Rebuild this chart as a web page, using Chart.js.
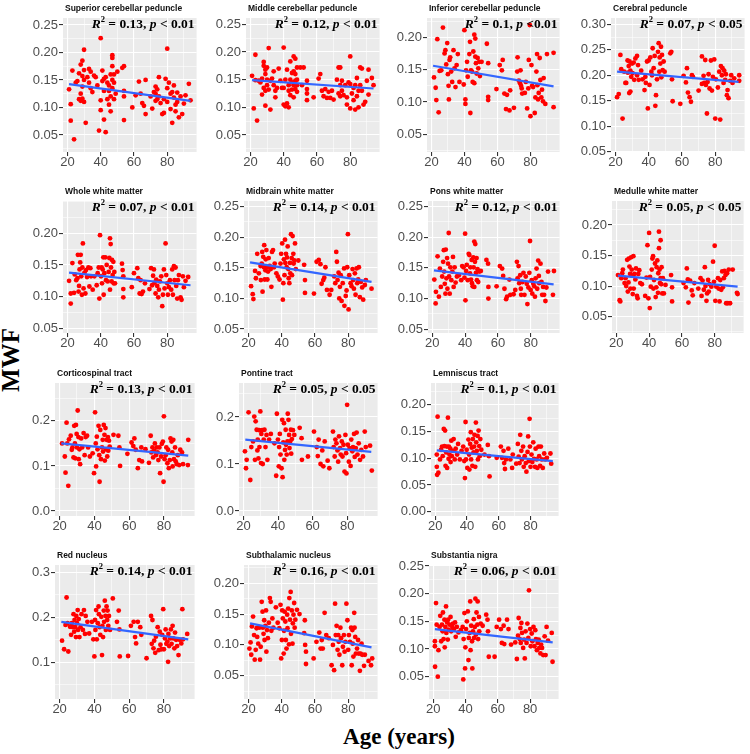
<!DOCTYPE html>
<html>
<head>
<meta charset="utf-8">
<script src="https://cdn.jsdelivr.net/npm/chart.js@4.4.1/dist/chart.umd.min.js"></script>
<style>
  body { margin: 0; background: #fff; }
  #page { position: relative; width: 750px; height: 754px; overflow: hidden; background: #fff; }
  #page canvas { position: absolute; }
  #ylab {
    position: absolute; left: -28px; top: 345px; width: 80px; height: 30px; line-height: 30px;
    text-align: center; font: bold 25px "Liberation Serif", serif; color: #000;
    transform: rotate(-90deg);
  }
  #xlab {
    position: absolute; left: 319px; top: 724px; width: 160px; height: 30px; line-height: 30px;
    text-align: center; font: bold 23px "Liberation Serif", serif; color: #000;
  }
</style>
</head>
<body>
<div id="page">
  <div id="ylab">MWF</div>
  <div id="xlab">Age (years)</div>
</div>
<script>
// panel titles and fit statistics
const titles = ["Superior cerebellar peduncle", "Middle cerebellar peduncle", "Inferior cerebellar peduncle", "Cerebral peduncle",
  "Whole white matter", "Midbrain white matter", "Pons white matter", "Medulle white matter",
  "Corticospinal tract", "Pontine tract", "Lemniscus tract",
  "Red nucleus", "Subthalamic nucleus", "Substantia nigra"];
const rSquared = ["0.13", "0.12", "0.1", "0.07", "0.07", "0.14", "0.12", "0.05", "0.13", "0.05", "0.1", "0.14", "0.16", "0.06"];
const pValues = ["< 0.01", "< 0.01", "<0.01", "< 0.05", "< 0.01", "< 0.01", "< 0.01", "< 0.05", "< 0.01", "< 0.05", "< 0.01", "< 0.01", "< 0.01", "< 0.01"];

// x axis (age) ticks, shared by every panel
const xTickLabels = ["20", "40", "60", "80"];
const xLimits = [17.35, 97.65];
const ageRange = [21, 94];

// y tick labels per panel
const yTickLabels = [
  ["0.05", "0.10", "0.15", "0.20", "0.25"],
  ["0.05", "0.10", "0.15", "0.20", "0.25"],
  ["0.05", "0.10", "0.15", "0.20"],
  ["0.05", "0.10", "0.15", "0.20", "0.25", "0.30"],
  ["0.05", "0.10", "0.15", "0.20"],
  ["0.05", "0.10", "0.15", "0.20", "0.25"],
  ["0.05", "0.10", "0.15", "0.20", "0.25"],
  ["0.05", "0.10", "0.15", "0.20"],
  ["0.0", "0.1", "0.2"],
  ["0.0", "0.1", "0.2"],
  ["0.00", "0.05", "0.10", "0.15", "0.20"],
  ["0.1", "0.2", "0.3"],
  ["0.05", "0.10", "0.15", "0.20"],
  ["0.05", "0.10", "0.15", "0.20", "0.25"]
];
const yLimits = [
  [0.019, 0.2627], [0.0193, 0.2614], [0.0227, 0.2298], [0.0494, 0.3124],
  [0.0426, 0.251], [0.0435, 0.2593], [0.0437, 0.2593], [0.0233, 0.2392],
  [-0.011, 0.284], [-0.0107, 0.2725], [-0.008, 0.241],
  [0.0185, 0.3162], [0.0122, 0.2297], [0.0097, 0.2518]
];

// fitted line values at the youngest and oldest age
const fitStart = [0.1425, 0.149, 0.156, 0.207, 0.138, 0.159, 0.146, 0.117, 0.150, 0.152, 0.115, 0.190, 0.135, 0.136];
const fitEnd = [0.112, 0.134, 0.124, 0.187, 0.118, 0.127, 0.123, 0.099, 0.123, 0.126, 0.0946, 0.151, 0.096, 0.112];

// [age, MWF] per panel
const superiorCP = [
  [21,0.133],[22,0.106],[22,0.076],[23,0.167],[24,0.042],[25,0.145],[26,0.148],[27,0.162],[27,0.115],[28,0.178],[28,0.125],[28,0.112],
  [29,0.185],[29,0.157],[29,0.138],[29,0.116],[30,0.205],[30,0.168],[30,0.150],[30,0.110],[31,0.072],[32,0.155],[33,0.170],[33,0.145],
  [34,0.165],[34,0.135],[35,0.128],[36,0.158],[37,0.155],[38,0.140],[39,0.058],[40,0.226],[40,0.113],[40,0.095],[41,0.167],[41,0.148],
  [42,0.152],[42,0.130],[42,0.078],[43,0.155],[43,0.055],[44,0.145],[44,0.115],[45,0.140],[45,0.105],[45,0.130],[46,0.160],[46,0.120],
  [46,0.093],[47,0.195],[47,0.190],[47,0.175],[47,0.150],[47,0.135],[48,0.160],[48,0.145],[48,0.115],[49,0.125],[50,0.165],[53,0.172],
  [54,0.175],[54,0.130],[54,0.120],[54,0.077],[59,0.100],[61,0.122],[63,0.147],[64,0.125],[65,0.108],[66,0.103],[67,0.150],[67,0.088],
  [70,0.120],[71,0.098],[72,0.128],[73,0.138],[73,0.125],[73,0.112],[74,0.133],[74,0.115],[75,0.155],[75,0.120],[76,0.108],[77,0.088],
  [78,0.115],[78,0.090],[79,0.152],[80,0.207],[80,0.135],[80,0.110],[81,0.145],[82,0.125],[82,0.097],[83,0.072],[83,0.128],[84,0.140],
  [84,0.118],[85,0.105],[85,0.093],[86,0.127],[86,0.110],[87,0.082],[88,0.120],[89,0.088],[90,0.107],[91,0.122],[93,0.143],[94,0.113]
];
const middleCP = [
  [21,0.157],[22,0.098],[23,0.195],[23,0.149],[24,0.076],[25,0.148],[26,0.145],[27,0.152],[27,0.123],[28,0.182],[28,0.175],[28,0.135],
  [29,0.168],[29,0.160],[29,0.130],[29,0.103],[30,0.172],[30,0.150],[30,0.140],[31,0.207],[31,0.132],[32,0.096],[32,0.148],[33,0.152],
  [34,0.165],[34,0.140],[35,0.130],[35,0.118],[36,0.135],[37,0.170],[38,0.148],[39,0.135],[40,0.208],[40,0.135],[40,0.105],[41,0.102],
  [41,0.150],[42,0.168],[42,0.107],[43,0.140],[43,0.100],[43,0.130],[44,0.183],[44,0.150],[44,0.122],[45,0.162],[45,0.145],[45,0.132],
  [46,0.192],[46,0.165],[46,0.140],[46,0.118],[47,0.188],[47,0.160],[47,0.148],[47,0.133],[48,0.172],[48,0.150],[48,0.140],[48,0.128],
  [50,0.172],[51,0.140],[52,0.172],[54,0.133],[54,0.125],[54,0.113],[54,0.148],[58,0.118],[61,0.152],[62,0.160],[63,0.130],[64,0.120],
  [65,0.133],[66,0.117],[67,0.128],[68,0.117],[69,0.130],[70,0.114],[72,0.150],[73,0.172],[73,0.125],[74,0.172],[74,0.140],[74,0.120],
  [75,0.148],[75,0.130],[76,0.122],[77,0.140],[78,0.118],[78,0.105],[79,0.145],[80,0.192],[80,0.142],[80,0.098],[81,0.125],[82,0.135],
  [82,0.113],[83,0.096],[83,0.140],[84,0.153],[84,0.120],[85,0.130],[85,0.100],[86,0.172],[86,0.140],[87,0.170],[87,0.130],[88,0.105],
  [89,0.110],[90,0.148],[91,0.168],[91,0.123],[93,0.153],[94,0.140]
];
const inferiorCP = [
  [21.6,0.138],[22.6,0.122],[23,0.103],[23.6,0.197],[24.4,0.084],[25,0.148],[26,0.149],[27,0.215],[28,0.175],[28.5,0.180],[29,0.158],
  [29.6,0.191],[30,0.143],[30.4,0.125],[30.6,0.104],[31,0.165],[31.4,0.169],[32,0.147],[32.6,0.131],[33.4,0.180],[34,0.152],[34.6,0.123],
  [35.3,0.157],[36,0.174],[37,0.131],[39.6,0.127],[40,0.211],[40.6,0.104],[40.6,0.097],[41,0.149],[41.6,0.162],[42,0.139],[43,0.174],
  [43.4,0.193],[43.6,0.083],[44,0.149],[44.6,0.147],[45,0.131],[45.4,0.178],[46,0.204],[46,0.129],[46.6,0.198],[46.6,0.170],[47,0.160],
  [47.4,0.144],[48,0.168],[48.4,0.152],[49,0.162],[49.4,0.140],[50.4,0.162],[53.6,0.190],[54.4,0.160],[54.4,0.108],[54.4,0.103],
  [59.4,0.120],[61.4,0.157],[62.7,0.149],[63.2,0.165],[64.2,0.113],[65.2,0.089],[65.8,0.111],[67.3,0.087],[67.7,0.118],[70,0.091],
  [72,0.147],[72.2,0.169],[73,0.133],[73.7,0.129],[74,0.149],[74.3,0.125],[74.7,0.121],[75,0.113],[76.6,0.114],[77.2,0.131],[78,0.090],
  [78.7,0.121],[79,0.165],[79.6,0.219],[80,0.078],[80.6,0.157],[81,0.125],[81.6,0.123],[82.6,0.083],[83,0.107],[83.6,0.147],[84,0.174],
  [84.2,0.126],[84.6,0.104],[85,0.114],[85.6,0.168],[86,0.134],[86.6,0.107],[87,0.119],[87.6,0.101],[88,0.137],[89,0.097],[90,0.174],
  [94,0.092],[94,0.176]
];
const cerebralPed = [
  [21,0.157],[22,0.163],[23,0.240],[23.5,0.212],[24.3,0.115],[25.3,0.207],[26,0.185],[26.5,0.185],[27.3,0.229],[27.5,0.205],[28,0.218],
  [28.3,0.165],[28.5,0.227],[29,0.209],[29,0.168],[29.5,0.197],[30,0.223],[30.3,0.204],[31,0.225],[31.3,0.191],[32,0.233],[33,0.238],
  [33,0.200],[33.6,0.220],[34,0.191],[35.5,0.209],[36.3,0.192],[37.5,0.171],[38,0.197],[38.3,0.185],[39,0.227],[39.5,0.135],[40,0.229],
  [40.5,0.181],[41,0.235],[41.6,0.207],[42,0.200],[42.4,0.253],[43,0.214],[43.6,0.238],[44,0.140],[44.4,0.161],[45,0.192],[45.6,0.246],
  [46,0.263],[46.4,0.207],[46.6,0.235],[47,0.223],[47.4,0.256],[47.6,0.196],[48,0.240],[48.4,0.210],[49,0.227],[49.6,0.207],[53,0.243],
  [53.6,0.246],[54,0.192],[54.4,0.149],[59,0.144],[61,0.199],[62.4,0.186],[63,0.214],[63.6,0.166],[64.6,0.157],[65.4,0.148],[66,0.200],
  [66.6,0.197],[70,0.170],[72,0.237],[72,0.183],[73,0.199],[73.4,0.185],[74,0.230],[74.4,0.181],[75,0.125],[75.4,0.187],[76,0.202],
  [76.6,0.174],[77.4,0.229],[78,0.170],[78.6,0.197],[79.4,0.231],[80,0.115],[80.4,0.192],[81.6,0.176],[82.4,0.207],[83,0.113],
  [83.4,0.218],[84,0.200],[84.4,0.214],[85,0.185],[85.4,0.209],[86,0.191],[86.4,0.202],[87,0.161],[87.4,0.171],[88,0.155],[89,0.189],
  [89.6,0.200],[90.4,0.185],[91.4,0.194],[94.4,0.200],[94.4,0.189]
];
const wholeWM = [
  [21,0.125],[22,0.089],[22,0.105],[23,0.153],[24,0.106],[24.4,0.135],[25.3,0.126],[26,0.129],[26.3,0.166],[26.7,0.108],[27,0.117],
  [27.3,0.143],[27.7,0.154],[28,0.166],[28.3,0.132],[28.7,0.103],[29,0.146],[29.3,0.184],[29.7,0.113],[30.3,0.138],[30.8,0.105],
  [31.2,0.142],[31.8,0.131],[32.6,0.146],[33.2,0.116],[33.8,0.145],[34.2,0.132],[35.2,0.111],[36.2,0.132],[37.6,0.118],[38.2,0.137],
  [38.8,0.146],[39.2,0.097],[39.6,0.197],[40.2,0.132],[40.6,0.146],[40.8,0.121],[41.2,0.143],[41.6,0.162],[41.8,0.103],[42.2,0.137],
  [42.8,0.162],[43.2,0.126],[43.6,0.150],[44.2,0.124],[44.8,0.139],[45.2,0.161],[45.6,0.192],[45.6,0.111],[46,0.183],[46.2,0.146],
  [46.6,0.124],[46.8,0.158],[47.2,0.134],[47.6,0.155],[47.8,0.121],[48.2,0.139],[48.6,0.121],[52.8,0.152],[53.2,0.142],[53.6,0.132],
  [53.6,0.112],[53.6,0.099],[58.7,0.115],[60,0.137],[62,0.145],[62.6,0.129],[63.4,0.105],[64,0.126],[64.6,0.104],[65.4,0.108],
  [66.6,0.121],[69.3,0.112],[70.3,0.145],[70.9,0.118],[71.5,0.133],[72,0.143],[72.4,0.122],[73,0.105],[73.4,0.127],[74,0.117],
  [74.6,0.099],[75,0.111],[75.6,0.124],[76.4,0.132],[77,0.085],[77.4,0.103],[78,0.143],[78.4,0.113],[79,0.184],[79.4,0.134],[80,0.121],
  [80.4,0.103],[81,0.115],[81.6,0.126],[82.4,0.111],[83,0.143],[83.4,0.103],[84,0.148],[84.4,0.126],[85,0.146],[85.4,0.117],[86,0.097],
  [86.4,0.126],[87,0.134],[88,0.099],[88.6,0.095],[89.4,0.132],[90,0.115],[91,0.125],[92.6,0.131]
];
const midbrainWM = [
  [21.6,0.120],[22.6,0.107],[23,0.099],[24,0.145],[24.5,0.133],[25.3,0.173],[26.3,0.141],[27.3,0.153],[27.5,0.130],[28,0.157],
  [28.3,0.176],[28.5,0.111],[28.9,0.168],[29.3,0.151],[29.5,0.187],[29.8,0.131],[30.2,0.146],[30.4,0.164],[30.8,0.179],[31.2,0.151],
  [31.4,0.131],[31.8,0.144],[32.2,0.166],[32.8,0.153],[33.4,0.148],[33.8,0.119],[34.2,0.176],[34.8,0.179],[35.4,0.151],[35.8,0.157],
  [36.8,0.141],[37.7,0.136],[38.7,0.131],[39.3,0.157],[39.7,0.173],[40.3,0.190],[40.7,0.098],[41,0.125],[41.3,0.164],[41.7,0.138],
  [42,0.196],[42.2,0.158],[42.6,0.173],[43,0.151],[43.2,0.167],[43.6,0.185],[44,0.148],[44.2,0.133],[44.6,0.125],[45,0.158],[45.2,0.141],
  [45.6,0.205],[46,0.166],[46.2,0.138],[46.6,0.202],[47,0.173],[47.2,0.157],[47.6,0.162],[48,0.190],[48.5,0.148],[50,0.162],[53.5,0.155],
  [54,0.130],[54,0.109],[59.4,0.108],[61,0.160],[62.3,0.163],[63.3,0.156],[64,0.124],[65,0.130],[65.6,0.134],[66.3,0.151],[67.2,0.114],
  [68.8,0.106],[69.8,0.114],[71.6,0.136],[72.2,0.125],[72.8,0.176],[73.2,0.160],[73.6,0.130],[74.2,0.142],[74.6,0.100],[75,0.119],
  [75.5,0.138],[76,0.096],[76.7,0.125],[77.5,0.149],[77.7,0.088],[78.5,0.104],[79,0.113],[79.4,0.151],[79.8,0.205],[80.2,0.082],
  [80.6,0.138],[81.4,0.125],[82,0.120],[82.6,0.148],[83,0.130],[83.4,0.116],[84,0.141],[84.4,0.106],[85,0.149],[85.4,0.125],[86,0.131],
  [86.4,0.151],[87,0.102],[87.6,0.127],[88.4,0.118],[89,0.098],[90,0.122],[90.6,0.130],[94,0.116]
];
const ponsWM = [
  [21.2,0.131],[22,0.092],[22.2,0.111],[23.2,0.169],[24,0.103],[24.6,0.149],[25.2,0.119],[26,0.136],[26.6,0.160],[27,0.179],[27.2,0.144],
  [27.6,0.124],[28,0.108],[28.2,0.180],[28.6,0.133],[29,0.166],[29.2,0.116],[29.6,0.157],[30,0.207],[30.2,0.136],[30.6,0.108],[31,0.151],
  [31.6,0.130],[32.2,0.144],[32.6,0.168],[33,0.119],[33.6,0.151],[34.2,0.126],[35,0.136],[36.2,0.138],[37.6,0.130],[38.2,0.153],
  [39,0.151],[39.6,0.134],[40,0.206],[40.2,0.097],[40.6,0.145],[41,0.155],[41.6,0.130],[42.2,0.173],[42.6,0.171],[43,0.141],[43.2,0.151],
  [43.6,0.131],[44,0.163],[44.2,0.125],[44.6,0.120],[45,0.167],[45.2,0.151],[45.6,0.193],[45.6,0.119],[46,0.160],[46.2,0.189],[46.6,0.142],
  [47,0.166],[47.2,0.130],[47.6,0.148],[48,0.127],[48.6,0.144],[49.6,0.145],[53,0.163],[54,0.157],[54.2,0.119],[54.2,0.100],[59.2,0.120],
  [61.2,0.153],[62.6,0.149],[63.2,0.137],[64,0.116],[65,0.099],[65.6,0.103],[67,0.131],[67.6,0.106],[69.6,0.107],[70.6,0.114],
  [71.6,0.160],[72,0.133],[72.6,0.153],[73,0.125],[73.6,0.138],[74,0.116],[74.2,0.106],[75,0.127],[75.6,0.142],[76.2,0.106],[77,0.136],
  [77.6,0.124],[78,0.091],[78.6,0.118],[79.2,0.142],[79.6,0.194],[80,0.114],[80.6,0.130],[81,0.108],[81.6,0.124],[82.2,0.120],
  [82.6,0.103],[83,0.133],[83.6,0.149],[84,0.116],[84.6,0.162],[85,0.137],[85.2,0.125],[86,0.157],[86.6,0.127],[87,0.106],[87.6,0.119],
  [88.2,0.106],[89,0.096],[89.6,0.118],[90.6,0.144],[93.6,0.106],[94.2,0.145]
];
const medulleWM = [
  [21,0.118],[22,0.077],[22.4,0.075],[23,0.113],[23.6,0.121],[24,0.127],[25,0.105],[25.6,0.113],[26,0.100],[26.6,0.143],[27,0.091],
  [27.4,0.106],[27.6,0.145],[28,0.132],[28.4,0.120],[28.6,0.096],[29,0.147],[29.4,0.127],[29.6,0.117],[30,0.087],[30.4,0.149],[30.6,0.096],
  [31,0.120],[31.6,0.111],[32,0.129],[32.6,0.084],[33,0.080],[33.4,0.120],[34,0.126],[34.6,0.105],[35.6,0.103],[37.6,0.084],[38.4,0.114],
  [39,0.167],[39.6,0.080],[40,0.187],[40.4,0.064],[40.6,0.115],[41,0.099],[41.6,0.127],[42,0.145],[42.4,0.149],[42.6,0.096],[43,0.110],
  [43.6,0.137],[44,0.082],[44.4,0.098],[44.6,0.131],[45,0.142],[45.4,0.089],[45.6,0.121],[46,0.189],[46,0.162],[46.4,0.127],[46.6,0.105],
  [47,0.175],[47,0.113],[47.4,0.103],[47.6,0.131],[48,0.088],[48.4,0.113],[49,0.088],[50,0.102],[53.4,0.118],[54,0.098],[54,0.075],
  [61,0.105],[62.4,0.098],[63,0.129],[63.6,0.111],[64,0.073],[65,0.109],[66,0.093],[66.6,0.085],[67.6,0.105],[70,0.096],[71.4,0.113],
  [72,0.084],[72.6,0.109],[73.4,0.094],[74,0.131],[74.4,0.100],[75,0.076],[75.4,0.088],[76,0.110],[76.4,0.091],[77,0.103],[78,0.099],
  [79,0.140],[79.6,0.107],[80,0.166],[80.4,0.076],[81,0.099],[82,0.113],[82.4,0.096],[83,0.075],[83.4,0.110],[84,0.094],[84.6,0.124],
  [85,0.098],[85.6,0.113],[86,0.125],[86.6,0.118],[87,0.072],[87.6,0.121],[88,0.072],[88.6,0.127],[89.4,0.072],[91,0.127],[93.6,0.089],
  [94,0.087]
];
const corticospinal = [
  [21.4,0.150],[23,0.121],[23.4,0.085],[24,0.196],[24.4,0.150],[25,0.056],[25.4,0.159],[26.4,0.167],[27,0.136],[27.4,0.141],[28,0.119],
  [28.4,0.189],[28.8,0.150],[29,0.117],[29.4,0.191],[29.8,0.171],[30,0.141],[30.4,0.223],[30.8,0.164],[31,0.115],[31.4,0.137],[31.8,0.104],
  [32.4,0.161],[33,0.141],[33.8,0.173],[34.4,0.124],[35,0.164],[35.8,0.167],[36.4,0.141],[37.4,0.121],[39,0.128],[39.8,0.084],[40.4,0.219],
  [40.8,0.150],[41,0.099],[41.4,0.165],[41.8,0.137],[42.4,0.189],[42.8,0.124],[43,0.065],[43.4,0.180],[43.8,0.115],[44.4,0.141],
  [44.8,0.158],[45,0.132],[45.4,0.191],[45.8,0.169],[46,0.112],[46.4,0.184],[46.8,0.137],[47,0.158],[47.4,0.121],[47.8,0.164],[48,0.134],
  [48.4,0.156],[48.8,0.143],[51,0.169],[53.8,0.167],[54.4,0.141],[54.8,0.100],[59,0.127],[61.4,0.152],[62.4,0.144],[63,0.161],[63.8,0.136],
  [65,0.095],[65.8,0.113],[67,0.141],[67.4,0.110],[69.4,0.137],[71.4,0.107],[72.4,0.167],[72.8,0.130],[73.4,0.141],[73.8,0.119],
  [74.4,0.134],[74.8,0.150],[75.4,0.124],[75.8,0.141],[76.4,0.130],[76.8,0.113],[77.4,0.141],[77.8,0.084],[78.4,0.121],[78.8,0.149],
  [79.4,0.154],[79.8,0.065],[80,0.210],[80.4,0.115],[81,0.124],[81.4,0.141],[82,0.106],[82.4,0.136],[82.8,0.095],[83.4,0.113],[83.8,0.161],
  [84.4,0.154],[84.8,0.130],[85,0.099],[85.4,0.158],[85.8,0.115],[86.4,0.141],[86.8,0.110],[87.4,0.104],[88,0.124],[88.8,0.102],
  [89.4,0.136],[90.4,0.130],[91,0.104],[93.8,0.102],[94,0.158]
];
const pontine = [
  [20.8,0.127],[21.4,0.091],[21.8,0.109],[22.9,0.210],[23.9,0.066],[24.5,0.136],[25.5,0.148],[26.2,0.201],[26.6,0.109],[27,0.191],
  [27.6,0.173],[28,0.129],[28.2,0.152],[28.6,0.112],[29,0.172],[29.2,0.136],[29.7,0.212],[30.1,0.102],[30.3,0.164],[30.7,0.172],
  [31.1,0.100],[31.7,0.152],[32.1,0.173],[32.7,0.136],[33.3,0.162],[33.8,0.109],[34.8,0.152],[35.8,0.164],[37.9,0.144],[38.9,0.075],
  [39.3,0.207],[39.9,0.152],[40.4,0.095],[40.6,0.136],[41,0.164],[41.4,0.120],[42,0.091],[42.4,0.194],[42.6,0.072],[43,0.146],[43.4,0.187],
  [43.6,0.109],[44,0.130],[44.4,0.173],[44.6,0.141],[45,0.120],[45.4,0.148],[45.6,0.207],[46,0.194],[46.4,0.162],[46.6,0.134],[47,0.148],
  [47.4,0.173],[47.6,0.122],[48,0.153],[48.6,0.172],[49.4,0.162],[52.5,0.177],[53.6,0.155],[53.8,0.109],[57.3,0.116],[60.8,0.169],
  [62.4,0.136],[63,0.117],[63.5,0.152],[64.6,0.100],[65.6,0.129],[66.2,0.095],[67,0.148],[68.7,0.107],[69.7,0.091],[71.8,0.169],
  [72.2,0.136],[72.8,0.116],[73.2,0.152],[73.8,0.144],[74.4,0.129],[74.8,0.105],[75.3,0.159],[75.9,0.134],[76.3,0.120],[76.9,0.148],
  [77.3,0.116],[77.9,0.141],[78.5,0.084],[79,0.162],[79.4,0.123],[79.6,0.080],[80,0.226],[80.4,0.141],[81,0.105],[81.4,0.134],[82,0.096],
  [82.4,0.152],[83,0.127],[83.4,0.136],[84,0.164],[84.4,0.115],[85,0.134],[85.5,0.167],[86,0.120],[86.7,0.144],[87.5,0.109],[88.2,0.130],
  [89.2,0.116],[90.2,0.169],[90.8,0.136],[93.3,0.139],[94.3,0.086]
];
const lemniscus = [
  [21,0.107],[21,0.084],[21.2,0.069],[21.5,0.178],[22,0.073],[23,0.098],[23.7,0.116],[24.3,0.122],[24.7,0.104],[25.4,0.155],[25.8,0.123],
  [26.2,0.152],[26.5,0.086],[26.9,0.111],[27.3,0.122],[27.5,0.082],[28,0.176],[28.4,0.099],[28.6,0.122],[29,0.107],[29.5,0.118],
  [29.7,0.093],[30.1,0.133],[30.5,0.104],[31.2,0.114],[31.6,0.136],[32.3,0.098],[32.9,0.118],[33.8,0.107],[34.4,0.127],[35.5,0.098],
  [36.6,0.114],[37.6,0.122],[38.3,0.095],[38.7,0.063],[39.1,0.168],[39.4,0.098],[39.8,0.116],[40.2,0.082],[40.9,0.135],[41.3,0.107],
  [41.5,0.079],[42,0.127],[42.4,0.149],[42.6,0.098],[43,0.120],[43.4,0.086],[43.7,0.136],[44.1,0.111],[44.5,0.122],[44.7,0.144],[45.2,0.084],
  [45.6,0.167],[45.8,0.130],[46.2,0.114],[46.7,0.142],[46.9,0.098],[47.3,0.152],[47.7,0.123],[48,0.104],[48.4,0.136],[49,0.116],[51,0.107],
  [53.1,0.125],[53.8,0.104],[54.2,0.066],[58.7,0.101],[61.3,0.122],[62,0.101],[63,0.114],[63.4,0.091],[63.9,0.080],[64.5,0.098],[66,0.118],
  [67.3,0.098],[68.4,0.082],[68.8,0.107],[71,0.090],[72,0.127],[72.5,0.103],[73.1,0.091],[73.5,0.144],[74.2,0.114],[74.6,0.098],
  [75.3,0.122],[75.7,0.084],[76.3,0.104],[77,0.091],[77.4,0.075],[78.1,0.112],[78.5,0.141],[78.9,0.095],[79.4,0.174],[79.6,0.122],
  [80,0.084],[80.6,0.107],[81.1,0.093],[81.7,0.130],[82.2,0.099],[82.8,0.084],[83.2,0.118],[83.9,0.098],[84.3,0.082],[85,0.122],
  [85.4,0.104],[86,0.086],[86.5,0.122],[87.1,0.098],[87.7,0.082],[88.6,0.109],[89.2,0.098],[90.3,0.101],[92.5,0.109],[93,0.090]
];
const redNucleus = [
  [21.4,0.148],[22.6,0.129],[23.4,0.183],[24,0.244],[24.6,0.187],[25,0.124],[26,0.179],[26.6,0.161],[27,0.187],[27.6,0.178],[28,0.207],
  [28.4,0.168],[28.6,0.194],[29,0.178],[29.4,0.156],[29.6,0.203],[30,0.187],[30.4,0.216],[30.6,0.172],[31,0.196],[31.4,0.156],[32,0.178],
  [32.6,0.207],[33.4,0.172],[34,0.216],[34.6,0.163],[35,0.203],[36,0.190],[37,0.164],[38.6,0.190],[39.4,0.151],[40,0.113],[40.4,0.194],
  [40.6,0.172],[41,0.216],[41.4,0.151],[42,0.187],[42.4,0.224],[42.6,0.207],[43,0.178],[43.4,0.161],[44,0.201],[44.4,0.116],[44.6,0.181],
  [45,0.156],[45.4,0.215],[45.6,0.190],[46,0.237],[46.4,0.203],[46.6,0.172],[47,0.224],[47.4,0.194],[47.6,0.215],[48,0.181],[48.4,0.203],
  [49,0.172],[50.6,0.242],[53,0.190],[54,0.215],[54.4,0.173],[54.6,0.113],[59.4,0.114],[61,0.181],[62.6,0.190],[63.4,0.156],[64,0.142],
  [65,0.190],[66.4,0.178],[67,0.161],[70,0.109],[72.6,0.203],[73,0.141],[73.4,0.194],[74,0.131],[74.4,0.148],[75,0.121],[75.4,0.157],
  [76.4,0.178],[77,0.127],[77.6,0.168],[78,0.139],[78.6,0.129],[79,0.161],[79.6,0.218],[80,0.129],[80.6,0.153],[81,0.173],[81.4,0.141],
  [82,0.146],[82.4,0.101],[82.6,0.163],[83,0.136],[83.6,0.153],[84,0.173],[84.4,0.141],[85,0.181],[85.4,0.153],[86,0.131],[86.4,0.166],
  [87,0.150],[87.6,0.136],[88.4,0.116],[89,0.150],[90,0.142],[90.6,0.218],[91,0.151],[93.4,0.163]
];
const subthalamic = [
  [20.6,0.094],[21.3,0.104],[21.7,0.084],[22.1,0.130],[22.8,0.146],[23.4,0.116],[23.8,0.076],[24.4,0.092],[24.9,0.127],[25.3,0.113],
  [25.9,0.102],[26.6,0.128],[27,0.076],[27.4,0.097],[28,0.170],[28.5,0.154],[28.7,0.128],[29.1,0.118],[29.5,0.140],[29.7,0.108],
  [30.2,0.131],[30.6,0.156],[30.8,0.089],[31.2,0.124],[31.7,0.111],[32.3,0.136],[32.9,0.176],[33.4,0.170],[33.8,0.123],[34.4,0.143],
  [35,0.128],[36.5,0.161],[37.6,0.136],[38.6,0.127],[39.3,0.165],[39.7,0.078],[40.1,0.108],[40.3,0.156],[40.7,0.143],[41.2,0.086],
  [41.4,0.123],[41.8,0.154],[42.2,0.138],[42.5,0.108],[42.9,0.094],[43.3,0.149],[43.5,0.127],[43.9,0.159],[44.4,0.101],[44.6,0.176],
  [45,0.141],[45.4,0.186],[45.6,0.118],[46.1,0.156],[46.5,0.102],[46.7,0.135],[47.1,0.149],[47.5,0.168],[47.8,0.128],[48.2,0.141],
  [49.2,0.157],[50.7,0.150],[53.5,0.119],[53.9,0.140],[54.1,0.100],[54.6,0.089],[54.6,0.069],[59.2,0.078],[60.9,0.105],[62.6,0.120],
  [63.4,0.094],[64.1,0.108],[64.7,0.094],[65.8,0.152],[66.8,0.116],[68.3,0.111],[70,0.067],[70.8,0.100],[71.5,0.059],[72.1,0.167],
  [72.5,0.116],[73,0.131],[73.6,0.092],[74,0.116],[74.3,0.105],[74.7,0.084],[75.3,0.128],[75.7,0.111],[76.4,0.067],[76.8,0.097],
  [77.4,0.116],[77.8,0.089],[78.3,0.105],[78.9,0.167],[79.5,0.140],[80,0.092],[80.4,0.116],[81,0.105],[81.7,0.128],[82.1,0.067],
  [82.5,0.124],[82.7,0.102],[83.1,0.081],[83.6,0.152],[83.8,0.128],[84.2,0.113],[84.6,0.086],[85.3,0.094],[85.9,0.108],[86.3,0.086],
  [87,0.058],[87.4,0.086],[88,0.102],[88.4,0.084],[89.5,0.066],[90,0.084],[92.2,0.074],[93.7,0.067],[94.4,0.078]
];
const substantiaNigra = [
  [21,0.114],[21,0.105],[21.1,0.068],[21.7,0.183],[22.1,0.144],[22.8,0.050],[23.2,0.098],[23.9,0.140],[24.3,0.160],[24.9,0.114],
  [25.4,0.144],[25.8,0.132],[26,0.166],[26.4,0.118],[26.9,0.153],[27.1,0.103],[27.5,0.140],[27.9,0.177],[28.1,0.129],[28.6,0.148],
  [29,0.117],[29.2,0.153],[29.6,0.135],[30.1,0.144],[30.7,0.158],[31.1,0.132],[31.8,0.140],[32.2,0.146],[32.8,0.136],[33.5,0.148],
  [33.9,0.122],[34.6,0.140],[35.6,0.130],[37.1,0.134],[38.2,0.140],[38.6,0.045],[38.8,0.118],[39.3,0.165],[39.7,0.065],[39.9,0.103],
  [40.3,0.136],[40.8,0.150],[41.4,0.168],[41.8,0.080],[42,0.120],[42.5,0.129],[42.9,0.186],[43.1,0.098],[43.5,0.142],[44,0.114],
  [44.2,0.065],[44.6,0.132],[45.1,0.154],[45.3,0.120],[45.7,0.140],[46.1,0.191],[46.4,0.126],[46.8,0.166],[47.3,0.144],[47.5,0.186],
  [47.8,0.118],[48.3,0.158],[48.5,0.132],[49.4,0.146],[50.6,0.142],[52.8,0.162],[53.6,0.153],[53.9,0.132],[54.4,0.086],[58,0.086],
  [59.3,0.140],[60.8,0.153],[61.9,0.136],[62.5,0.111],[63.6,0.142],[64,0.109],[65.7,0.153],[66.6,0.136],[68.2,0.108],[70.8,0.112],
  [71.8,0.082],[72.5,0.124],[72.9,0.156],[73.6,0.118],[74,0.138],[74.2,0.111],[74.6,0.147],[75,0.129],[75.7,0.102],[76.3,0.117],
  [76.7,0.083],[77.2,0.132],[77.8,0.111],[78.3,0.146],[78.9,0.120],[79.3,0.206],[80,0.136],[80.4,0.105],[81,0.128],[81.4,0.114],
  [82.1,0.140],[82.7,0.105],[83.2,0.134],[83.6,0.118],[84.2,0.098],[84.7,0.111],[85.3,0.117],[85.7,0.102],[86.4,0.092],[86.8,0.108],
  [87.4,0.102],[88.1,0.089],[89,0.123],[89.6,0.089],[90.2,0.140],[91.1,0.115],[93.4,0.129],[93.9,0.077]
];

const panelData = [superiorCP, middleCP, inferiorCP, cerebralPed, wholeWM, midbrainWM, ponsWM, medulleWM,
  corticospinal, pontine, lemniscus, redNucleus, subthalamic, substantiaNigra];

// plot area of each panel on the page: left, top, width, height
const panelBoxes = [
  [63, 18, 136, 134], [246, 18, 136, 134], [427, 18, 135, 134], [611, 18, 136, 134],
  [63, 201, 136, 132], [244, 201, 136, 132], [428, 201, 134, 132], [612, 201, 134, 132],
  [55, 383, 142, 133], [239, 383, 141, 133], [431, 383, 130, 133],
  [55, 565, 142, 134], [244, 565, 136, 134], [429, 565, 132, 134]
];

const Y_AXIS_W = 40;
const X_AXIS_H = 24;
const TOP_PAD = 20;
const SERIF = '"Liberation Serif", "Times New Roman", serif';
const SANS = '"Liberation Sans", Arial, sans-serif';

// minor grid halfway between the major ticks (ggplot style)
function withMinor(majors, lo, hi) {
  const out = [];
  const step = majors[1] - majors[0];
  for (let v = majors[0] - step / 2; v <= hi + 1e-9; v += step / 2) {
    if (v >= lo - 1e-9) out.push(+v.toFixed(4));
  }
  return out;
}
function findLabel(labels, v) {
  const hit = labels.find(l => Math.abs(parseFloat(l) - v) < 1e-6);
  return hit === undefined ? null : hit;
}

function makeDecor(title, r2, p) {
  return {
    id: 'decor',
    beforeDraw(chart) {
      const { ctx, chartArea: a } = chart;
      ctx.save();
      ctx.fillStyle = '#EBEBEB';
      ctx.fillRect(a.left, a.top, a.right - a.left, a.bottom - a.top);
      ctx.restore();
    },
    afterDraw(chart) {
      const { ctx, chartArea: a } = chart;
      ctx.save();
      ctx.fillStyle = '#111';
      ctx.textBaseline = 'middle';
      ctx.font = 'bold 8.5px ' + SANS;
      ctx.fillText(title, a.left + 2, a.top - 9);

      // R^2 = .., p < .. right aligned in the top of the panel
      const parts = [
        ['R', 'italic bold 13.5px ' + SERIF, 0],
        ['2', 'bold 8.5px ' + SERIF, -4.5],
        [' = ' + r2 + ', ', 'bold 13.5px ' + SERIF, 0],
        ['p', 'italic bold 13.5px ' + SERIF, 0],
        [' ' + p, 'bold 13.5px ' + SERIF, 0]
      ];
      let total = 0;
      parts.forEach(pt => { ctx.font = pt[1]; total += ctx.measureText(pt[0]).width; });
      let x = a.right - 2 - total;
      const y = a.top + 6.5;
      ctx.fillStyle = '#000';
      parts.forEach(pt => {
        ctx.font = pt[1];
        ctx.fillText(pt[0], x, y + pt[2]);
        x += ctx.measureText(pt[0]).width;
      });
      ctx.restore();
    }
  };
}

const page = document.getElementById('page');
const xMajor = xTickLabels.map(Number);
const xAll = withMinor(xMajor, xLimits[0], xLimits[1]);

panelData.forEach((pts, i) => {
  const [left, top, w, h] = panelBoxes[i];
  const cw = Y_AXIS_W + w;
  const ch = TOP_PAD + h + X_AXIS_H;
  const canvas = document.createElement('canvas');
  canvas.width = cw;
  canvas.height = ch;
  canvas.style.left = (left - Y_AXIS_W) + 'px';
  canvas.style.top = (top - TOP_PAD) + 'px';
  canvas.style.width = cw + 'px';
  canvas.style.height = ch + 'px';
  page.appendChild(canvas);

  const yLabels = yTickLabels[i];
  const yMajor = yLabels.map(Number);
  const [yLo, yHi] = yLimits[i];
  const yAll = withMinor(yMajor, yLo, yHi);

  const isMajorX = v => xMajor.some(m => Math.abs(m - v) < 1e-6);
  const isMajorY = v => yMajor.some(m => Math.abs(m - v) < 1e-6);

  new Chart(canvas, {
    type: 'scatter',
    data: {
      datasets: [
        {
          data: [{ x: ageRange[0], y: fitStart[i] }, { x: ageRange[1], y: fitEnd[i] }],
          showLine: true,
          borderColor: '#3366FF',
          borderWidth: 2.2,
          pointRadius: 0,
          fill: false
        },
        {
          data: pts.map(([x, y]) => ({ x, y })),
          backgroundColor: '#FF0000',
          borderWidth: 0,
          pointRadius: 2.4,
          pointHoverRadius: 2.4
        }
      ]
    },
    options: {
      responsive: false,
      animation: false,
      devicePixelRatio: 1,
      layout: { padding: { top: TOP_PAD, left: 0, right: 0, bottom: 0 } },
      plugins: { legend: { display: false }, tooltip: { enabled: false }, title: { display: false } },
      scales: {
        x: {
          type: 'linear',
          min: xLimits[0],
          max: xLimits[1],
          afterBuildTicks: s => { s.ticks = xAll.map(v => ({ value: v })); },
          afterFit: s => { s.height = X_AXIS_H; },
          border: { display: false },
          grid: {
            color: '#FFFFFF',
            lineWidth: c => (isMajorX(c.tick.value) ? 1.1 : 0.55),
            drawTicks: true,
            tickLength: 4,
            tickWidth: 1.1,
            tickColor: c => (isMajorX(c.tick.value) ? '#333333' : 'rgba(0,0,0,0)')
          },
          ticks: {
            autoSkip: false,
            maxRotation: 0,
            minRotation: 0,
            padding: 0,
            color: '#4D4D4D',
            font: { family: SANS, size: 13, lineHeight: 1 },
            callback: v => findLabel(xTickLabels, v) || ''
          }
        },
        y: {
          type: 'linear',
          min: yLo,
          max: yHi,
          afterBuildTicks: s => { s.ticks = yAll.map(v => ({ value: v })); },
          afterFit: s => { s.width = Y_AXIS_W; },
          border: { display: false },
          grid: {
            color: '#FFFFFF',
            lineWidth: c => (isMajorY(c.tick.value) ? 1.1 : 0.55),
            drawTicks: true,
            tickLength: 4,
            tickWidth: 1.1,
            tickColor: c => (isMajorY(c.tick.value) ? '#333333' : 'rgba(0,0,0,0)')
          },
          ticks: {
            autoSkip: false,
            padding: 1,
            color: '#4D4D4D',
            font: { family: SANS, size: 13 },
            callback: v => findLabel(yLabels, v) || ''
          }
        }
      }
    },
    plugins: [makeDecor(titles[i], rSquared[i], pValues[i])]
  });
});
</script>
</body>
</html>
